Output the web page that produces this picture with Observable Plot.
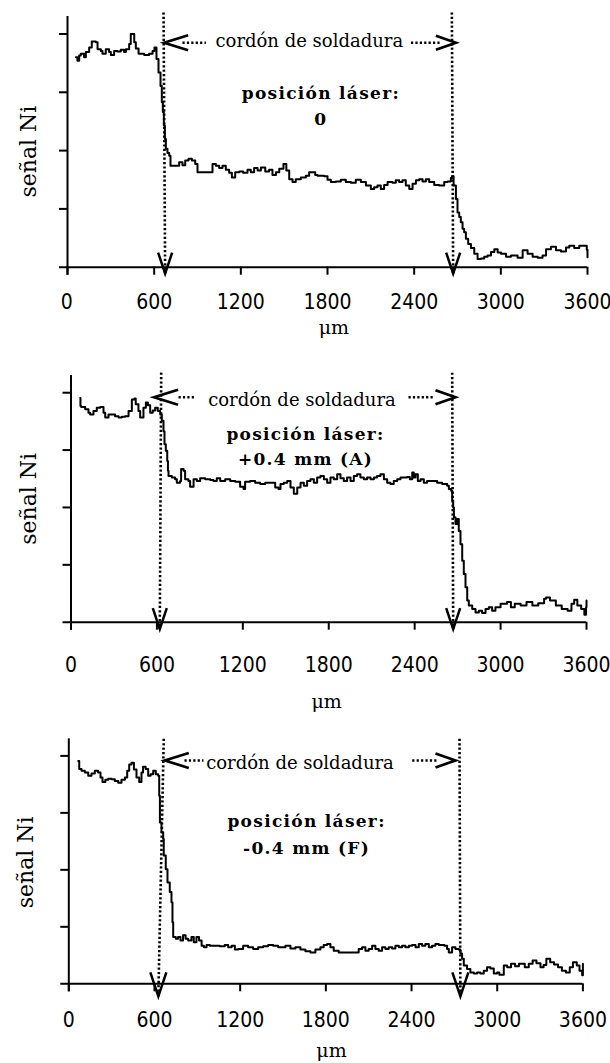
<!DOCTYPE html>
<html><head><meta charset="utf-8">
<script src="https://cdn.jsdelivr.net/npm/d3@7"></script>
<script src="https://cdn.jsdelivr.net/npm/@observablehq/plot@0.6"></script>
<style>
body{margin:0;background:#fff;}
#charts{width:610px;}
#charts svg{display:block;overflow:visible;background:#fff;}
</style></head><body><div id="charts"></div>
<script>
// ---- texts / ticks ----
const xTicks = [0, 600, 1200, 1800, 2400, 3000, 3600];
const yTicks = [1, 2, 3, 4];
const xLabel = "μm";
const yLabel = "señal Ni";
const weldLabel = "cordón de soldadura";
const laserTitle = "posición láser:";
const laserPositions = ["0", "+0.4 mm (A)", "-0.4 mm (F)"];

// ---- series (μm, signal in tick units) ----
const x1 = [58,69,81,92,115,127,150,168,196,208,231,242,265,288,300,323,346,369,392,404,427,438,462,473,492,531,565,589,602,616,630,644,653,660,667,674,681,692,704,713,773,796,815,838,861,884,900,1004,1027,1050,1073,1096,1119,1138,1161,1189,1216,1246,1269,1292,1316,1339,1369,1396,1419,1443,1466,1495,1515,1535,1558,1580,1615,1650,1673,1700,1715,1731,1777,1800,1823,1858,1892,1927,1962,1996,2031,2066,2100,2123,2146,2169,2192,2216,2250,2273,2296,2319,2342,2366,2389,2412,2435,2458,2481,2504,2539,2573,2608,2631,2654,2662,2673,2689,2700,2712,2723,2735,2746,2758,2774,2793,2816,2839,2862,2885,2908,2932,2955,2978,3001,3036,3070,3116,3151,3185,3220,3255,3289,3313,3347,3382,3416,3451,3474,3508,3543,3578,3595,3600];
const y1 = [3.60,3.54,3.63,3.66,3.60,3.69,3.77,3.87,3.86,3.74,3.71,3.66,3.74,3.69,3.64,3.71,3.70,3.73,3.69,3.74,3.83,4.00,3.86,3.75,3.66,3.64,3.66,3.71,3.77,3.57,3.34,3.11,2.83,2.66,2.43,2.20,2.03,1.96,1.91,1.74,1.80,1.75,1.83,1.86,1.83,1.77,1.63,1.77,1.74,1.70,1.74,1.67,1.62,1.54,1.63,1.64,1.62,1.67,1.63,1.70,1.66,1.71,1.64,1.67,1.58,1.63,1.69,1.77,1.66,1.51,1.46,1.51,1.54,1.57,1.63,1.63,1.58,1.57,1.56,1.50,1.46,1.47,1.50,1.46,1.45,1.50,1.46,1.40,1.34,1.37,1.40,1.34,1.41,1.46,1.45,1.49,1.46,1.49,1.40,1.34,1.43,1.49,1.51,1.47,1.51,1.46,1.41,1.40,1.46,1.47,1.53,1.56,1.40,1.17,0.94,0.86,0.77,0.66,0.60,0.49,0.40,0.33,0.23,0.14,0.15,0.18,0.20,0.26,0.31,0.25,0.23,0.18,0.20,0.16,0.29,0.23,0.18,0.16,0.20,0.31,0.35,0.29,0.27,0.34,0.37,0.33,0.37,0.37,0.30,0.17];

const x2 = [64,66,71,99,122,134,157,180,204,227,239,262,285,308,332,355,378,402,425,443,452,471,483,506,523,537,553,571,588,606,623,634,646,653,662,672,677,681,704,727,739,762,769,786,797,820,832,856,879,902,937,972,995,1018,1042,1077,1112,1147,1181,1205,1216,1251,1286,1321,1356,1391,1426,1449,1463,1486,1510,1533,1556,1580,1603,1626,1649,1672,1696,1719,1742,1766,1789,1812,1835,1859,1882,1905,1928,1952,1975,1998,2021,2045,2068,2092,2115,2138,2161,2185,2208,2231,2254,2278,2301,2324,2347,2366,2383,2394,2406,2422,2441,2464,2487,2522,2557,2592,2627,2639,2655,2662,2669,2674,2685,2697,2708,2720,2732,2743,2755,2767,2778,2802,2825,2848,2871,2895,2918,2941,2964,2991,3000,3045,3072,3099,3140,3181,3222,3263,3304,3318,3345,3386,3427,3468,3495,3514,3536,3563,3585,3597,3600];
const y2 = [3.91,3.77,3.75,3.71,3.65,3.62,3.68,3.74,3.75,3.65,3.57,3.62,3.62,3.59,3.57,3.58,3.59,3.68,3.88,3.90,3.80,3.68,3.57,3.74,3.83,3.78,3.65,3.69,3.74,3.68,3.62,3.51,3.33,3.10,2.99,2.81,2.64,2.55,2.52,2.49,2.43,2.46,2.67,2.64,2.49,2.46,2.36,2.49,2.46,2.51,2.49,2.48,2.46,2.51,2.46,2.49,2.46,2.45,2.36,2.32,2.45,2.46,2.43,2.41,2.43,2.43,2.35,2.32,2.41,2.43,2.46,2.35,2.24,2.35,2.43,2.38,2.46,2.49,2.43,2.52,2.55,2.49,2.43,2.52,2.49,2.58,2.51,2.46,2.52,2.46,2.55,2.58,2.52,2.49,2.52,2.49,2.52,2.55,2.58,2.49,2.43,2.41,2.46,2.49,2.52,2.52,2.53,2.49,2.61,2.52,2.58,2.46,2.49,2.43,2.46,2.46,2.43,2.41,2.38,2.32,2.29,2.12,2.00,1.83,1.71,1.80,1.59,1.36,1.07,0.84,0.61,0.38,0.29,0.23,0.17,0.20,0.16,0.23,0.26,0.20,0.26,0.26,0.32,0.35,0.26,0.32,0.29,0.35,0.29,0.33,0.41,0.43,0.38,0.29,0.23,0.20,0.32,0.39,0.29,0.23,0.13,0.26,0.38];

const x3 = [66,73,89,112,136,159,182,205,222,236,256,276,299,322,346,369,393,409,423,439,456,474,493,509,520,538,556,573,591,609,626,633,638,649,661,665,679,691,707,719,726,731,749,765,782,800,818,836,859,875,894,912,930,946,965,988,1022,1057,1092,1116,1140,1163,1186,1221,1256,1291,1326,1361,1396,1431,1466,1482,1517,1552,1587,1622,1657,1692,1727,1762,1785,1809,1832,1855,1890,1949,2007,2030,2054,2077,2100,2124,2147,2170,2194,2217,2240,2264,2287,2311,2334,2357,2381,2404,2428,2451,2474,2497,2521,2544,2567,2591,2614,2630,2649,2661,2684,2707,2731,2742,2754,2766,2789,2812,2836,2859,2882,2906,2929,2952,2976,2999,3015,3046,3070,3097,3125,3152,3193,3221,3248,3275,3303,3325,3344,3371,3398,3426,3453,3481,3508,3530,3557,3576,3595,3600];
const y3 = [3.91,3.77,3.74,3.71,3.65,3.69,3.74,3.71,3.62,3.54,3.58,3.60,3.59,3.56,3.53,3.58,3.62,3.74,3.85,3.88,3.76,3.62,3.54,3.71,3.81,3.77,3.65,3.68,3.74,3.68,3.65,3.30,2.83,2.66,2.54,2.25,2.01,1.78,1.61,1.43,1.08,0.82,0.79,0.82,0.76,0.85,0.79,0.76,0.82,0.73,0.82,0.76,0.67,0.64,0.68,0.67,0.67,0.66,0.68,0.64,0.67,0.60,0.61,0.67,0.64,0.61,0.64,0.66,0.68,0.67,0.64,0.64,0.67,0.62,0.64,0.60,0.57,0.55,0.60,0.64,0.68,0.70,0.64,0.58,0.55,0.55,0.55,0.61,0.64,0.58,0.61,0.67,0.61,0.58,0.64,0.61,0.64,0.62,0.67,0.64,0.67,0.64,0.67,0.68,0.64,0.70,0.67,0.70,0.64,0.67,0.70,0.68,0.68,0.67,0.61,0.55,0.64,0.61,0.60,0.53,0.44,0.32,0.26,0.20,0.18,0.20,0.18,0.23,0.29,0.27,0.18,0.20,0.16,0.32,0.29,0.35,0.31,0.35,0.29,0.35,0.41,0.36,0.29,0.33,0.44,0.38,0.34,0.29,0.23,0.20,0.29,0.38,0.32,0.23,0.15,0.35];

// ---- weld-bead annotation values (μm) ----
const weldStartTop = [665, 630, 665];
const weldStartBottom = [676, 620, 627];
const weldEndTop = [2661, 2662, 2736];
const weldEndBottom = [2670, 2669, 2742];
const arrowLeftTip = [669, 580, 672];
const arrowRightTip = [2689, 2685, 2708];
const dotsLeft = [[796, 958], [751, 869], [810, 943]];
const dotsRight = [[2378, 2586], [2357, 2531], [2405, 2580]];
const weldTextX = [1674, 1613, 1619];
const laserTextX = [1754, 1638, 1665];
const unitX = [1844, 1785, 1840];

// ---- layout (positions & sizes) ----
const layout = [
  {height:345, mt:16,   mb:78.3, ml:67,   mr:23,   tickPad:19.2, unitDy:61, yLabDx:-39,   yLabDy:9.7, tipY:-0.11, vW:7, vH:21, dotTop:4.37, arrowY:3.85, textY:3.87, t1Y:2.97, t2Y:2.54},
  {height:365, mt:30,   mb:88.3, ml:70.5, mr:24,   tickPad:27,   unitDy:80, yLabDx:-42.5, yLabDy:0,   tipY:-0.12, vW:7, vH:21, dotTop:4.35, arrowY:3.92, textY:3.87, t1Y:3.27, t2Y:2.83},
  {height:353, mt:28.3, mb:79.7, ml:68.3, mr:27.6, tickPad:20.5, unitDy:67, yLabDx:-43,   yLabDy:1,   tipY:-0.22, vW:8, vH:24, dotTop:4.30, arrowY:3.92, textY:3.87, t1Y:2.84, t2Y:2.38}
];

const series = [[x1, y1], [x2, y2], [x3, y3]];

function chevron(kind, w, h) {
  return {draw(ctx) {
    if (kind === "left") { ctx.moveTo(w, -h); ctx.lineTo(0, 0); ctx.lineTo(w, h); }
    else if (kind === "right") { ctx.moveTo(-w, -h); ctx.lineTo(0, 0); ctx.lineTo(-w, h); }
    else { ctx.moveTo(-w, -h); ctx.lineTo(0, 0); ctx.lineTo(w, -h); }
  }};
}

const serif = "DejaVu Serif";
const root = document.getElementById("charts");

series.forEach(([xs, ys], i) => {
  const L = layout[i];
  const data = xs.map((x, k) => ({x, y: ys[k]}));
  const vlines = [
    {xa: weldStartTop[i], xb: weldStartBottom[i]},
    {xa: weldEndTop[i], xb: weldEndBottom[i]}
  ];
  const dotSegs = [
    {a: dotsLeft[i][0], b: dotsLeft[i][1]},
    {a: dotsRight[i][0], b: dotsRight[i][1]}
  ];
  const svg = Plot.plot({
    width: 610, height: L.height,
    marginTop: L.mt, marginBottom: L.mb, marginLeft: L.ml, marginRight: L.mr,
    x: {domain: [0, 3600]},
    y: {domain: [0, 4.3]},
    marks: [
      Plot.axisX({ticks: xTicks, tickSize: 8, tickPadding: L.tickPad, strokeWidth: 2,
        tickFormat: d => String(d), fontSize: 21, fontFamily: "DejaVu Sans Condensed", label: null}),
      Plot.axisY({ticks: yTicks, tickSize: 8, strokeWidth: 2, tickFormat: () => "", label: null}),
      Plot.ruleX([0], {y1: -8 / ((L.height - L.mt - L.mb) / 4.3), y2: 4.3, strokeWidth: 2}),
      Plot.ruleY([0], {x1: -8 / ((610 - L.ml - L.mr) / 3600), x2: 3600, strokeWidth: 2}),
      // vertical dotted boundaries
      Plot.link(vlines, {x1: "xa", y1: L.dotTop, x2: "xb", y2: L.tipY, strokeWidth: 2.6, strokeDasharray: "2.2,2.2"}),
      Plot.dot(vlines, {x: "xb", y: L.tipY, r: 5, symbol: chevron("down", L.vW, L.vH), fill: "none", stroke: "black", strokeWidth: 2.5}),
      // horizontal arrow
      Plot.link(dotSegs, {x1: "a", x2: "b", y1: L.arrowY, y2: L.arrowY, strokeWidth: 2.6, strokeDasharray: "2.2,2.2"}),
      Plot.dot([arrowLeftTip[i]], {x: d => d, y: L.arrowY, r: 5, symbol: chevron("left", 24, 7.5), fill: "none", stroke: "black", strokeWidth: 2.7}),
      Plot.dot([arrowRightTip[i]], {x: d => d, y: L.arrowY, r: 5, symbol: chevron("right", 20, 7), fill: "none", stroke: "black", strokeWidth: 2.7}),
      Plot.text([weldLabel], {x: weldTextX[i], y: L.textY, text: d => d, fontFamily: serif, fontSize: 18, fill: "black"}),
      Plot.text([laserTitle], {x: laserTextX[i], y: L.t1Y, text: d => d, fontFamily: serif, fontWeight: "bold", fontSize: 17, fill: "black"}),
      Plot.text([laserPositions[i]], {x: laserTextX[i], y: L.t2Y, text: d => d, fontFamily: serif, fontWeight: "bold", fontSize: 17, fill: "black"}),
      // data trace
      Plot.line(data, {x: "x", y: "y", curve: "step-after", stroke: "black", strokeWidth: 2}),
      // axis titles
      Plot.text([xLabel], {x: unitX[i], y: 0, dy: L.unitDy, text: d => d, fontFamily: serif, fontSize: 19, fill: "black"}),
      Plot.text([yLabel], {frameAnchor: "left", dx: L.yLabDx, dy: L.yLabDy, rotate: -90, textAnchor: "middle", text: d => d, fontFamily: serif, fontSize: 22, fill: "black"})
    ]
  });
  d3.select(svg).selectAll("text").filter(function() {
    return this.textContent === laserTitle || this.textContent === laserPositions[i];
  }).attr("letter-spacing", "1.3px");
  root.appendChild(svg);
});
</script></body></html>
